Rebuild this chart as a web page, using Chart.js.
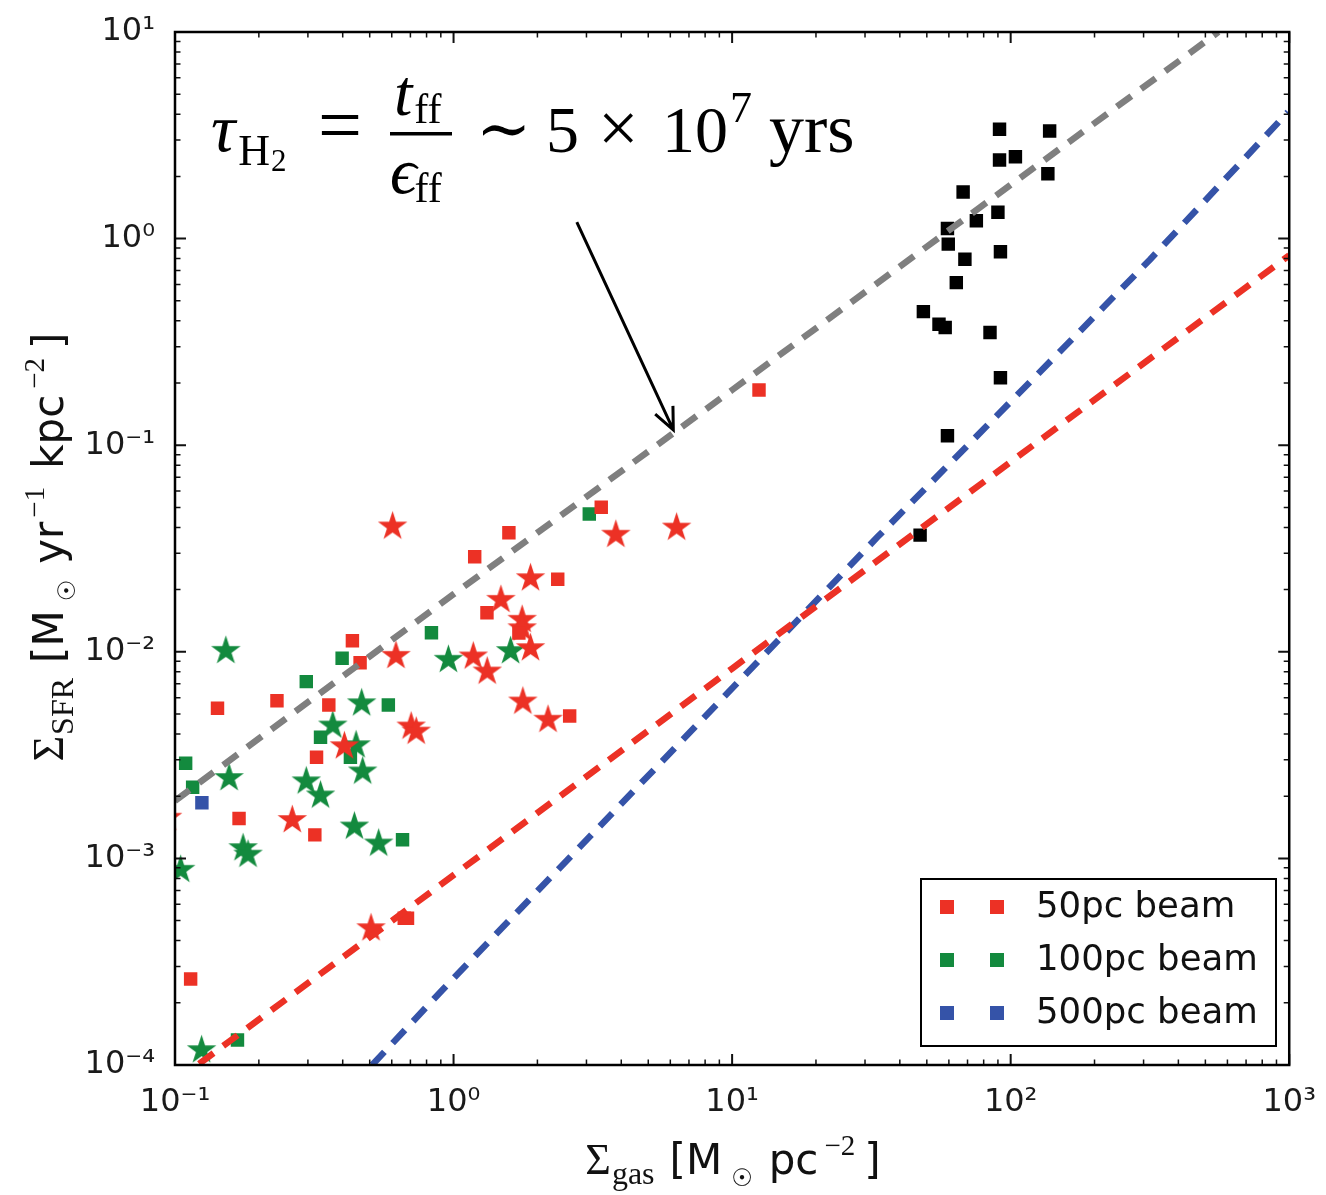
<!DOCTYPE html>
<html>
<head>
<meta charset="utf-8">
<script src="https://cdn.jsdelivr.net/npm/chart.js@4.4.1/dist/chart.umd.min.js"></script>
<style>
  html, body { margin: 0; padding: 0; background: #fff; }
  #wrap { width: 1326px; height: 1195px; }
</style>
</head>
<body>
<div id="wrap"><canvas id="ks-plot" width="1326" height="1195"></canvas></div>
<script>
// Sigma_gas [Msun/pc^2] against Sigma_SFR [Msun/yr/kpc^2]

// 50pc beam
var red_sq_x = [0.1138, 0.1421, 0.1698, 0.2323, 0.3177, 0.3222, 0.3566, 0.4334, 0.4618, 0.6652, 0.6834, 1.191, 1.318, 1.580, 1.716, 2.366, 2.611, 3.390, 12.49];
var red_sq_y = [0.000261, 0.00533, 0.00156, 0.00580, 0.00130, 0.00309, 0.00553, 0.01132, 0.00886, 0.000513, 0.000513, 0.02886, 0.01546, 0.0377, 0.01233, 0.02243, 0.00489, 0.05004, 0.185];
var red_st_x = [0.094, 0.2637, 0.4057, 0.5056, 0.6040, 0.6212, 0.7045, 0.7343, 1.177, 1.321, 1.479, 1.763, 1.763, 1.889, 1.773, 1.889, 2.184, 3.824, 6.321];
var red_st_y = [0.0016, 0.00156, 0.00355, 0.000467, 0.0411, 0.00972, 0.00442, 0.00418, 0.00965, 0.00816, 0.01815, 0.01453, 0.01322, 0.01059, 0.00584, 0.02309, 0.00477, 0.0375, 0.0406];

// 100pc beam
var grn_sq_x = [0.1092, 0.1157, 0.1676, 0.2960, 0.3330, 0.3981, 0.4263, 0.5833, 0.6559, 0.8330, 3.071];
var grn_sq_y = [0.00289, 0.00221, 0.000132, 0.00717, 0.00386, 0.00930, 0.00309, 0.00553, 0.00123, 0.01237, 0.04645];
var grn_st_x = [0.1048, 0.1246, 0.1522, 0.1564, 0.1756, 0.1829, 0.2960, 0.3330, 0.3685, 0.4406, 0.4468, 0.4679, 0.4718, 0.5383, 0.9581, 1.602];
var grn_st_y = [0.000896, 0.000120, 0.01028, 0.00249, 0.00114, 0.00106, 0.00240, 0.00205, 0.00447, 0.00145, 0.00359, 0.00573, 0.00268, 0.00120, 0.00930, 0.01025];

// 500pc beam
var blu_sq_x = [0.1249];
var blu_sq_y = [0.00186];

// high density sample
var blk_x = [91.2, 138, 91.2, 104, 136, 67.5, 90.0, 75.3, 59.3, 59.7, 91.9, 68.5, 63.8, 48.6, 55.3, 58.2, 84.3, 91.9, 59.3, 47.3];
var blk_y = [3.38, 3.32, 2.40, 2.49, 2.06, 1.68, 1.34, 1.22, 1.12, 0.94, 0.864, 0.794, 0.612, 0.443, 0.385, 0.371, 0.351, 0.212, 0.111, 0.0367];

// depletion time line and the two beam relations
var dep_x = [0.1, 1, 10, 100, 557];
var dep_y = [0.0019, 0.019, 0.185, 1.82, 10];
var rel50_x = [0.1, 1, 10, 100, 1000];
var rel50_y = [0.000083, 0.00083, 0.0083, 0.083, 0.83];
var rel500_x = [0.51, 0.91, 33.3, 164, 316, 990];
var rel500_y = [0.0001, 0.00023, 0.036, 0.32, 0.79, 4.1];

var x_ticks = [0.1,0.2,0.3,0.4,0.5,0.6,0.7,0.8,0.9, 1,2,3,4,5,6,7,8,9, 10,20,30,40,50,60,70,80,90, 100,200,300,400,500,600,700,800,900, 1000];
var y_ticks = [0.0001,0.0002,0.0003,0.0004,0.0005,0.0006,0.0007,0.0008,0.0009,
               0.001,0.002,0.003,0.004,0.005,0.006,0.007,0.008,0.009,
               0.01,0.02,0.03,0.04,0.05,0.06,0.07,0.08,0.09,
               0.1,0.2,0.3,0.4,0.5,0.6,0.7,0.8,0.9, 1,2,3,4,5,6,7,8,9, 10];
var sup = { '-': '\u207B', '0': '\u2070', '1': '\u00B9', '2': '\u00B2', '3': '\u00B3', '4': '\u2074' };

var RED = '#ec3125', GREEN = '#138a3e', BLUE = '#3553a8', GRAY = '#7f7f7f';
var SANS = '"DejaVu Sans", sans-serif';
var SERIF = '"Liberation Serif", "DejaVu Serif", serif';

function pts(xs, ys) {
  return xs.map(function (x, i) { return { x: x, y: ys[i] }; });
}

function starImage(color, r) {
  var c = document.createElement('canvas');
  var s = Math.ceil(r * 2 + 2);
  c.width = s; c.height = s;
  var g = c.getContext('2d');
  g.translate(s / 2, s / 2 + r * 0.1);
  g.beginPath();
  for (var i = 0; i < 10; i++) {
    var rr = i % 2 === 0 ? r : r * 0.382;
    var a = -Math.PI / 2 + i * Math.PI / 5;
    g.lineTo(rr * Math.cos(a), rr * Math.sin(a));
  }
  g.closePath();
  g.fillStyle = color;
  g.fill();
  return c;
}

function isDecade(v) {
  var l = Math.log10(v);
  return Math.abs(l - Math.round(l)) < 1e-9;
}

function decadeLabel(v) {
  if (!isDecade(v)) return '';
  var e = String(Math.round(Math.log10(v)));
  return '10' + e.split('').map(function (ch) { return sup[ch]; }).join('');
}

function sq(label, xs, ys, color, r) {
  return { type: 'scatter', label: label, data: pts(xs, ys), pointStyle: 'rect', pointRadius: r,
           backgroundColor: color, borderColor: color, borderWidth: 0, clip: 0 };
}

function stars(label, xs, ys, color) {
  return { type: 'scatter', label: label, data: pts(xs, ys), pointStyle: starImage(color, 15.5),
           pointRadius: 15, backgroundColor: color, borderColor: color, clip: 0 };
}

function dashed(label, xs, ys, color) {
  return { type: 'line', label: label, data: pts(xs, ys), borderColor: color, borderWidth: 6.5,
           borderDash: [18, 12], borderCapStyle: 'butt', pointRadius: 0, fill: false, tension: 0, clip: 0 };
}

// draws a run of text pieces with their own font and vertical shift
function drawRuns(ctx, x, y, runs) {
  runs.forEach(function (r) {
    ctx.font = r.f;
    x += (r.gap || 0);
    ctx.fillText(r.t, x, y + (r.dy || 0));
    x += ctx.measureText(r.t).width;
  });
  return x;
}

function runsWidth(ctx, runs) {
  var w = 0;
  runs.forEach(function (r) {
    ctx.font = r.f;
    w += (r.gap || 0) + ctx.measureText(r.t).width;
  });
  return w;
}

var decor = {
  id: 'decor',
  afterDraw: function (chart) {
    var ctx = chart.ctx, a = chart.chartArea;
    var xs = chart.scales.x, ys = chart.scales.y;
    ctx.save();

    // inward ticks on all four sides
    ctx.strokeStyle = '#111';
    x_ticks.forEach(function (v) {
      var p = xs.getPixelForValue(v), L = isDecade(v) ? 11 : 5.5;
      ctx.lineWidth = isDecade(v) ? 2 : 1.5;
      ctx.beginPath();
      ctx.moveTo(p, a.bottom); ctx.lineTo(p, a.bottom - L);
      ctx.moveTo(p, a.top); ctx.lineTo(p, a.top + L);
      ctx.stroke();
    });
    y_ticks.forEach(function (v) {
      var p = ys.getPixelForValue(v), L = isDecade(v) ? 11 : 5.5;
      ctx.lineWidth = isDecade(v) ? 2 : 1.5;
      ctx.beginPath();
      ctx.moveTo(a.left, p); ctx.lineTo(a.left + L, p);
      ctx.moveTo(a.right, p); ctx.lineTo(a.right - L, p);
      ctx.stroke();
    });

    // frame
    ctx.lineWidth = 2.5;
    ctx.strokeStyle = '#000';
    ctx.strokeRect(a.left, a.top, a.right - a.left, a.bottom - a.top);

    // legend, two markers per entry
    var lx = 921, ly = 879, lw = 355, lh = 167;
    ctx.fillStyle = '#fff';
    ctx.fillRect(lx, ly, lw, lh);
    ctx.lineWidth = 2;
    ctx.strokeStyle = '#000';
    ctx.strokeRect(lx, ly, lw, lh);
    var entries = chart.data.datasets.filter(function (d) { return d.inLegend; });
    entries.forEach(function (d, i) {
      var cy = ly + 28 + i * 53;
      ctx.fillStyle = d.backgroundColor;
      ctx.fillRect(947 - 7, cy - 7, 14, 14);
      ctx.fillRect(997 - 7, cy - 7, 14, 14);
      ctx.fillStyle = '#111';
      ctx.font = '35.5px ' + SANS;
      ctx.textBaseline = 'middle';
      ctx.textAlign = 'left';
      ctx.fillText(d.label, 1036, cy + 1);
    });

    // annotation: depletion time
    ctx.fillStyle = '#000';
    ctx.textBaseline = 'alphabetic';
    drawRuns(ctx, 211, 151, [
      { t: '\u03C4', f: 'italic 68px ' + SERIF },
      { t: 'H', f: '44px ' + SERIF, dy: 14, gap: 3 },
      { t: '2', f: '31px ' + SERIF, dy: 20, gap: 1 }
    ]);
    drawRuns(ctx, 318, 151, [{ t: '=', f: '78px ' + SERIF }]);
    drawRuns(ctx, 394, 115, [
      { t: 't', f: 'italic 66px ' + SERIF },
      { t: 'ff', f: '42px ' + SERIF, dy: 8, gap: 2 }
    ]);
    ctx.fillRect(390, 132, 62, 3.5);
    drawRuns(ctx, 390, 193, [
      { t: '\u03F5', f: 'italic 66px ' + SERIF },
      { t: 'ff', f: '42px ' + SERIF, dy: 9, gap: -2 }
    ]);
    drawRuns(ctx, 476, 151, [{ t: '\u223C', f: '66px ' + SERIF }]);
    drawRuns(ctx, 546, 152, [{ t: '5', f: '66px ' + SERIF }]);
    drawRuns(ctx, 598, 152, [{ t: '\u00D7', f: '72px ' + SERIF }]);
    drawRuns(ctx, 662, 152, [
      { t: '10', f: '66px ' + SERIF },
      { t: '7', f: '44px ' + SERIF, dy: -30, gap: 2 }
    ]);
    drawRuns(ctx, 769, 152, [{ t: 'yrs', f: '70px ' + SERIF }]);

    // arrow down to the depletion line
    var x0 = xs.getPixelForValue(2.77), y0 = ys.getPixelForValue(1.2);
    var x1 = xs.getPixelForValue(6.15), y1 = ys.getPixelForValue(0.1186);
    ctx.strokeStyle = '#000';
    ctx.lineWidth = 3;
    ctx.beginPath();
    ctx.moveTo(x0, y0); ctx.lineTo(x1, y1);
    var ang = Math.atan2(y1 - y0, x1 - x0), hl = 24;
    ctx.moveTo(x1 - hl * Math.cos(ang - 0.42), y1 - hl * Math.sin(ang - 0.42));
    ctx.lineTo(x1, y1);
    ctx.lineTo(x1 - hl * Math.cos(ang + 0.42), y1 - hl * Math.sin(ang + 0.42));
    ctx.stroke();

    // axis titles
    ctx.fillStyle = '#111';
    var xt = [
      { t: '\u03A3', f: '44px ' + SERIF },
      { t: 'gas', f: '32px ' + SERIF, dy: 10, gap: 1 },
      { t: '[M', f: '42px ' + SANS, gap: 15 },
      { t: '\u2609', f: '24px ' + SANS, dy: 12, gap: 9 },
      { t: 'pc', f: '42px ' + SANS, gap: 16 },
      { t: '\u22122', f: '29px ' + SERIF, dy: -19, gap: 6 },
      { t: ']', f: '42px ' + SANS, gap: 9 }
    ];
    drawRuns(ctx, 733 - runsWidth(ctx, xt) / 2, 1174, xt);

    var yt = [
      { t: '\u03A3', f: '44px ' + SERIF },
      { t: 'SFR', f: '32px ' + SERIF, dy: 10, gap: 1 },
      { t: '[M', f: '42px ' + SANS, gap: 15 },
      { t: '\u2609', f: '24px ' + SANS, dy: 12, gap: 9 },
      { t: 'yr', f: '42px ' + SANS, gap: 16 },
      { t: '\u22121', f: '29px ' + SERIF, dy: -19, gap: 4 },
      { t: 'kpc', f: '42px ' + SANS, gap: 18 },
      { t: '\u22122', f: '29px ' + SERIF, dy: -19, gap: 6 },
      { t: ']', f: '42px ' + SANS, gap: 9 }
    ];
    ctx.translate(63, 547);
    ctx.rotate(-Math.PI / 2);
    drawRuns(ctx, -runsWidth(ctx, yt) / 2, 0, yt);
    ctx.restore();
  }
};

var rs = sq('50pc beam', red_sq_x, red_sq_y, RED, 9.5); rs.inLegend = true;
var gs = sq('100pc beam', grn_sq_x, grn_sq_y, GREEN, 9.5); gs.inLegend = true;
var bs = sq('500pc beam', blu_sq_x, blu_sq_y, BLUE, 9.5); bs.inLegend = true;

var chart = new Chart(document.getElementById('ks-plot'), {
  type: 'scatter',
  data: {
    datasets: [
      dashed('depletion time', dep_x, dep_y, GRAY),
      dashed('50pc relation', rel50_x, rel50_y, RED),
      dashed('500pc relation', rel500_x, rel500_y, BLUE),
      rs,
      stars('50pc beam stars', red_st_x, red_st_y, RED),
      gs,
      stars('100pc beam stars', grn_st_x, grn_st_y, GREEN),
      bs,
      sq('dense', blk_x, blk_y, '#000', 9.5)
    ]
  },
  options: {
    responsive: false,
    animation: false,
    events: [],
    layout: { padding: { top: 32, right: 33, left: 0, bottom: 0 } },
    plugins: { legend: { display: false }, tooltip: { enabled: false } },
    scales: {
      x: {
        type: 'logarithmic', min: 0.1, max: 1000,
        afterBuildTicks: function (s) { s.ticks = x_ticks.map(function (v) { return { value: v }; }); },
        afterFit: function (s) { s.height = 130; },
        grid: { display: false },
        border: { display: false },
        ticks: { autoSkip: false, maxRotation: 0, padding: 10, color: '#1a1a1a',
                 font: { family: 'DejaVu Sans', size: 32 }, callback: decadeLabel }
      },
      y: {
        type: 'logarithmic', min: 0.0001, max: 10,
        afterBuildTicks: function (s) { s.ticks = y_ticks.map(function (v) { return { value: v }; }); },
        afterFit: function (s) { s.width = 175; },
        grid: { display: false },
        border: { display: false },
        ticks: { autoSkip: false, padding: 12, color: '#1a1a1a',
                 font: { family: 'DejaVu Sans', size: 32 }, callback: decadeLabel }
      }
    }
  },
  plugins: [decor]
});
</script>
</body>
</html>
